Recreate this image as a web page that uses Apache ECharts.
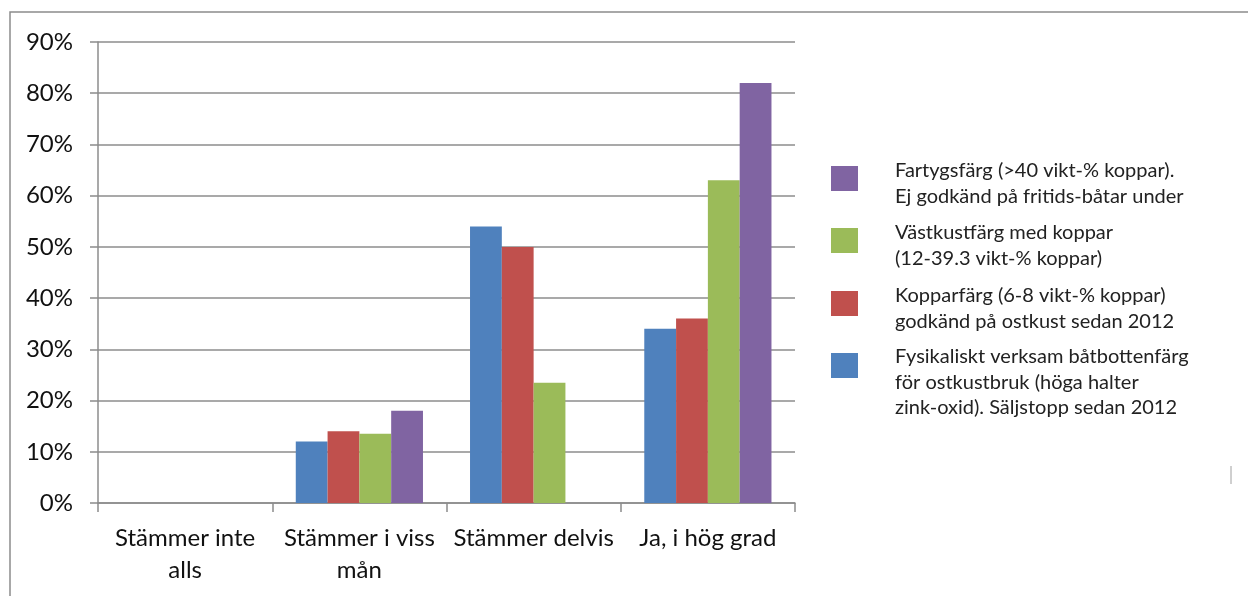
<!DOCTYPE html>
<html>
<head>
<meta charset="utf-8">
<script src="https://cdn.jsdelivr.net/npm/echarts@6/dist/echarts.min.js"></script>
<style>html,body{margin:0;padding:0;background:#fff;}#c{width:1248px;height:596px;}</style>
</head>
<body>
<div id="c"></div>
<script>
const categories = ['Stämmer inte alls', 'Stämmer i viss mån', 'Stämmer delvis', 'Ja, i hög grad'];
const seriesNames = [
  'Fysikaliskt verksam båtbottenfärg\nför ostkustbruk (höga halter\nzink-oxid). Säljstopp sedan 2012',
  'Kopparfärg (6-8 vikt-% koppar)\ngodkänd på ostkust sedan 2012',
  'Västkustfärg med koppar\n(12-39.3 vikt-% koppar)',
  'Fartygsfärg (>40 vikt-% koppar).\nEj godkänd på fritids-båtar under'
];
const fysikaliskt = [0, 12, 54, 34];
const kopparfarg = [0, 14, 50, 36];
const vastkust = [0, 13.5, 23.5, 63];
const fartyg = [0, 18, 0, 82];
const yTicks = [0, 10, 20, 30, 40, 50, 60, 70, 80, 90];
const colors = ['#4F81BD', '#C0504D', '#9BBB59', '#8064A2'];

const FONT = 'Lato';
const values = [fysikaliskt, kopparfarg, vastkust, fartyg];
// legend layout (blue at bottom, purple on top)
const legendIconTops = [353, 291, 228, 166];
const legendTextTops = [344, 283, 220, 158];

function wrap(s, maxChars) {
  const words = s.split(' ');
  const lines = [];
  let cur = '';
  words.forEach(w => {
    const t = cur ? cur + ' ' + w : w;
    if (t.length > maxChars && cur) { lines.push(cur); cur = w; } else { cur = t; }
  });
  if (cur) lines.push(cur);
  return lines.join('\n');
}

const legendGraphics = [];
seriesNames.forEach((n, i) => {
  legendGraphics.push({type: 'rect', silent: true, shape: {x: 831, y: legendIconTops[i], width: 27, height: 25},
    style: {fill: colors[i]}});
  legendGraphics.push({type: 'text', silent: true, x: 895, y: legendTextTops[i],
    style: {text: n, font: '20px ' + FONT, fill: '#222', lineHeight: 25.5, verticalAlign: 'top', align: 'left'}});
});

const chart = echarts.init(document.getElementById('c'), null, {renderer: 'canvas'});
chart.setOption({
  animation: false,
  backgroundColor: '#fff',
  textStyle: {fontFamily: FONT},
  grid: {left: 98, right: 453, top: 42, bottom: 93, containLabel: false},
  xAxis: {
    type: 'category',
    data: categories,
    axisLine: {lineStyle: {color: '#8c8c8c', width: 1.5}},
    axisTick: {show: true, length: 9, lineStyle: {color: '#8c8c8c', width: 1.5}},
    axisLabel: {fontFamily: FONT, fontSize: 24, color: '#111', margin: 19, lineHeight: 32,
      interval: 0, formatter: v => wrap(v, 14)}
  },
  yAxis: {
    type: 'value',
    min: 0, max: 90, interval: 10,
    axisLine: {show: true, lineStyle: {color: '#8c8c8c', width: 1.5}},
    axisTick: {show: true, length: 8, lineStyle: {color: '#8c8c8c', width: 1.5}},
    splitLine: {show: true, lineStyle: {color: '#8c8c8c', width: 1.5}},
    axisLabel: {fontFamily: FONT, fontSize: 24, color: '#111', margin: 25,
      formatter: v => yTicks.includes(v) ? v + '%' : ''}
  },
  series: seriesNames.map((n, i) => ({
    name: n,
    type: 'bar',
    data: values[i],
    barGap: '0%',
    barCategoryGap: '27%',
    itemStyle: {color: colors[i], borderWidth: 0}
  })),
  graphic: [
    {type: 'polyline', silent: true, shape: {points: [[10, 600], [10, 12], [1250, 12]]},
      style: {stroke: '#8c8c8c', lineWidth: 1.5, fill: null}},
    {type: 'line', silent: true, shape: {x1: 1231, y1: 466, x2: 1231, y2: 484},
      style: {stroke: '#a0a0a0', lineWidth: 1}}
  ].concat(legendGraphics)
});
</script>
</body>
</html>
